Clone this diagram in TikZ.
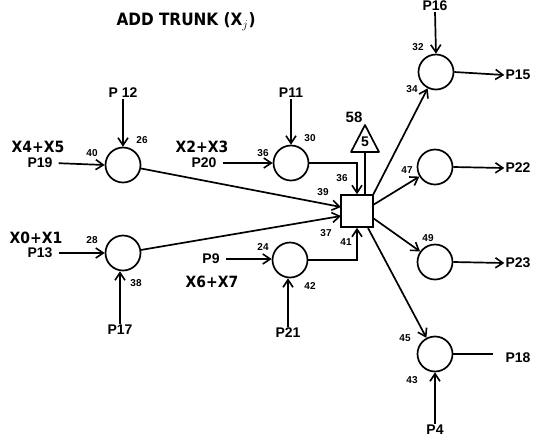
\documentclass[tikz,border=0pt]{standalone}
\usepackage{fontspec}
\setmainfont{Liberation Sans}
\newfontfamily\condfont{DejaVu Sans Condensed}
\usetikzlibrary{arrows.meta}
\tikzset{
  x=1pt,y=-1pt,
  ln/.style={line width=1.7pt},
  arr/.style={ln,-{Straight Barb[length=7.5pt,width=10pt,line width=1.6pt]}},
  inarr/.style={arr,shorten <=5pt},
  blob/.style={circle,draw,line width=1.7pt,minimum size=35pt,inner sep=0pt},
  box/.style={rectangle,draw,line width=1.7pt,minimum size=32pt,inner sep=0pt},
  plab/.style={font=\fontsize{14}{14}\selectfont\bfseries,inner sep=1pt},
  num/.style={font=\fontsize{10}{10}\selectfont\bfseries,inner sep=0pt},
  xlab/.style={font=\condfont\fontsize{15.5}{15.5}\selectfont\bfseries,inner sep=0pt},
}
\begin{document}
\begin{tikzpicture}
\clip (0,0) rectangle (537,440);
\useasboundingbox (0,0) rectangle (537,440);

\node[font=\condfont\fontsize{17}{17}\selectfont\bfseries] (title) at (186,22) {ADD TRUNK (X$_j$)};

% circles
\node[blob] (c1) at (123,165) {};
\node[blob] (c2) at (123,253) {};
\node[blob] (c3) at (291,163) {};
\node[blob] (c4) at (290,260) {};
\node[blob] (c5) at (436,72) {};
\node[blob] (c6) at (435,167) {};
\node[blob] (c7) at (435,262) {};
\node[blob] (c8) at (435,354) {};
\node[box] (sq) at (357,211) {};

% triangle
\coordinate (tribase) at (365,152);
\draw[ln,line join=round] (351,152) -- (365,125) -- (379,152) -- cycle;
\node[font=\fontsize{14}{14}\selectfont\bfseries] (five) at (365,142) {5};
\node[font=\fontsize{15}{15}\selectfont\bfseries] (fiftyeight) at (354,117) {58};
\draw[ln] (tribase) -- (tribase |- sq.north);

% input labels
\node[plab] (p12) at (123,93) {P 12};
\node[plab] (p19) at (40,163) {P19};
\node[plab] (p13) at (40,253) {P13};
\node[plab] (p17) at (120,330) {P17};
\node[plab] (p20) at (204,163) {P20};
\node[plab] (p11) at (291,93) {P11};
\node[plab] (p9) at (211,259) {P9};
\node[plab] (p21) at (288,333) {P21};
\node[plab] (p16) at (435,6) {P16};
\node[plab] (p4) at (435,430) {P4};
\node[plab] (p15) at (518,75) {P15};
\node[plab] (p22) at (518,168) {P22};
\node[plab] (p23) at (518,263) {P23};
\node[plab] (p18) at (518,358) {P18};

% X labels
\node[xlab] (x45) at (38,147) {X4+X5};
\node[xlab] (x23) at (202,147) {X2+X3};
\node[xlab] (x01) at (36,238) {X0+X1};
\node[xlab] (x67) at (212,282) {X6+X7};

% inputs
\draw[arr] (p12.south) -- (c1.north);
\draw[inarr] (p19.east) -- (c1.west);
\draw[inarr] (p13.east) -- (c2.west);
\draw[arr] (p17.north) -- (p17.north |- c2.south);
\draw[inarr] (p20.east) -- (c3.west);
\draw[arr] (p11.south) -- (c3.north);
\draw[inarr] (p9.east) -- (p9.east -| c4.west);
\draw[arr] (p21.north) -- (p21.north |- c4.south);
\draw[arr] (p16.south) -- (c5.north);
\draw[arr] (p4.north) -- (c8.south);

% into square
\coordinate (sqin1) at (341,207);
\coordinate (sqin2) at (341,216);
\draw[arr] (c1) -- (sqin1);
\draw[arr] (c2) -- (sqin2);
\draw[arr] (c3.east) -| (sq.north);
\draw[arr] (c4.east) -| (sq.south);

% out of square
\coordinate (so1) at (373,195);
\coordinate (so2) at (373,205);
\coordinate (so3) at (373,218);
\coordinate (so4) at (368,228);
\draw[arr] (so1) -- (c5);
\draw[arr] (so2) -- (c6);
\draw[arr] (so3) -- (c7);
\draw[arr] (so4) -- (c8);

% outputs
\coordinate (p18end) at (493,354);
\draw[arr] (c5.east) -- (p15.west);
\draw[arr] (c6.east) -- (p22.west);
\draw[arr] (c7.east) -- (p23.west);
\draw[ln] (c8.east) -- (p18end);

% numbers
\node[num] (n26) at (142,140) {26};
\node[num] (n40) at (92,153) {40};
\node[num] (n36a) at (263,153) {36};
\node[num] (n30) at (310,138) {30};
\node[num] (n28) at (92,240) {28};
\node[num] (n38) at (136,283) {38};
\node[num] (n24) at (263,247) {24};
\node[num] (n42) at (310,286) {42};
\node[num] (n36b) at (342,178) {36};
\node[num] (n39) at (323,192) {39};
\node[num] (n37) at (326,233) {37};
\node[num] (n41) at (346,242) {41};
\node[num] (n32) at (418,47) {32};
\node[num] (n34) at (412,89) {34};
\node[num] (n47) at (407,170) {47};
\node[num] (n49) at (428,238) {49};
\node[num] (n45) at (405,338) {45};
\node[num] (n43) at (412,380) {43};
\end{tikzpicture}
\end{document}
